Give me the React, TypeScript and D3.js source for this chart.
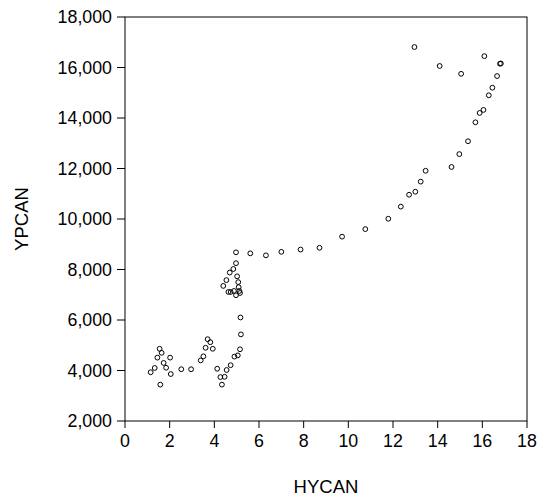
import React from 'react';
import * as d3 from 'd3';

// HYCAN vs YPCAN
const hycan = [
  1.15, 1.33, 1.45, 1.55, 1.64, 1.73, 1.84, 1.58, 2.02, 2.05,
  2.52, 2.96, 3.39, 3.51, 3.61, 3.70, 3.82, 3.93, 4.13, 4.27,
  4.34, 4.46, 4.55, 4.73, 4.90, 5.05, 5.15, 5.19, 5.17,
  4.40, 4.54, 4.69, 4.85, 4.97, 5.02, 5.07, 5.09, 5.12, 5.15,
  4.97, 4.63, 4.73, 4.88,
  4.97, 5.61, 6.31, 7.00, 7.86, 8.71, 9.72, 10.76, 11.79, 12.35,
  12.72, 13.00, 13.24, 13.46, 14.62, 14.97, 15.36, 15.69, 15.88, 16.05,
  16.29, 16.45, 16.66, 16.79, 16.83, 16.09, 15.05, 14.09, 12.96,
];
const ypcan = [
  3930, 4100, 4510, 4860, 4700, 4300, 4110, 3440, 4510, 3860,
  4050, 4050, 4400, 4560, 4900, 5240, 5120, 4860, 4070, 3740,
  3440, 3750, 4020, 4210, 4550, 4600, 4840, 5430, 6100,
  7350, 7580, 7880, 8020, 8250, 7730, 7500, 7300, 7150, 7070,
  6980, 7110, 7110, 7150,
  8680, 8640, 8560, 8700, 8790, 8860, 9300, 9600, 10010, 10490,
  10960, 11080, 11480, 11910, 12060, 12570, 13080, 13830, 14200, 14320,
  14900, 15200, 15660, 16150, 16160, 16450, 15750, 16060, 16810,
];
const xTicks = [0, 2, 4, 6, 8, 10, 12, 14, 16, 18];
const yTicks = [2000, 4000, 6000, 8000, 10000, 12000, 14000, 16000, 18000];

const W = 547;
const H = 499;
const m = { left: 125, right: 20, top: 17, bottom: 78 };
const font = '"Liberation Sans", Arial, sans-serif';

export default function App() {
  const x = d3.scaleLinear().domain([0, 18]).range([m.left, W - m.right]);
  const y = d3.scaleLinear().domain([2000, 18000]).range([H - m.bottom, m.top]);
  const fmt = d3.format(',');
  const x0 = x(0), x1 = x(18), y0 = y(2000), y1 = y(18000);

  return (
    <svg width={W} height={H} style={{ position: 'absolute', left: 0, top: 0, background: '#fff' }}
      fontFamily={font}>
      <rect x={x0} y={y1} width={x1 - x0} height={y0 - y1} fill="none" stroke="#000" strokeWidth={1} />
      {yTicks.map(t => (
        <g key={'y' + t}>
          <line x1={x0 - 8} x2={x0} y1={y(t)} y2={y(t)} stroke="#000" />
          <text x={x0 - 13} y={y(t)} dy="0.35em" textAnchor="end" fontSize={17.8}>{fmt(t)}</text>
        </g>
      ))}
      {xTicks.map(t => (
        <g key={'x' + t}>
          <line x1={x(t)} x2={x(t)} y1={y0} y2={y0 + 7} stroke="#000" />
          <text x={x(t)} y={y0 + 20} dy="0.35em" textAnchor="middle" fontSize={17.8}>{t}</text>
        </g>
      ))}
      <text x={(x0 + x1) / 2} y={493} textAnchor="middle" fontSize={18.5}>HYCAN</text>
      <text transform={`translate(28,${(y0 + y1) / 2}) rotate(-90)`} textAnchor="middle" fontSize={18.5}>YPCAN</text>
      {hycan.map((v, i) => (
        <circle key={i} cx={x(v)} cy={y(ypcan[i])} r={2.4} fill="none" stroke="#000" strokeWidth={1} />
      ))}
    </svg>
  );
}
